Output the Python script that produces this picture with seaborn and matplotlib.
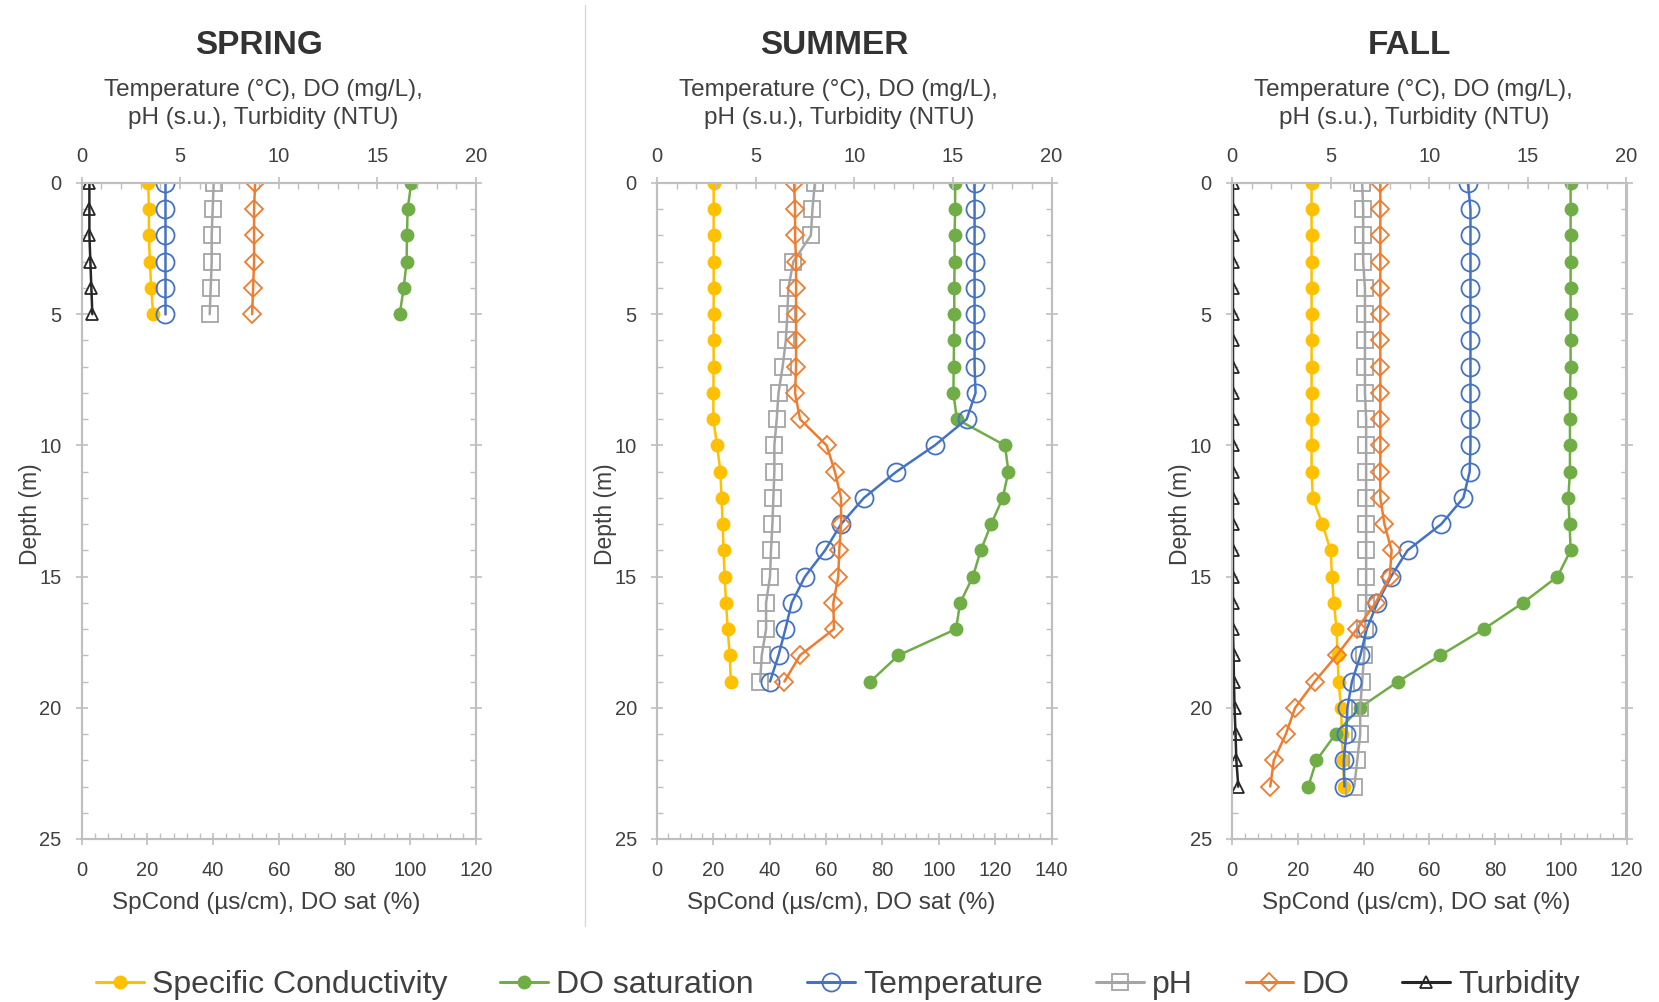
import numpy as np
import pandas as pd
import matplotlib
matplotlib.use("Agg")
import matplotlib.pyplot as plt
from matplotlib.lines import Line2D
from matplotlib.ticker import MultipleLocator
import seaborn as sns

# ---------------- data ----------------
seasons = ["SPRING", "SUMMER", "FALL"]

spring_depth = [0, 1, 2, 3, 4, 5]
spring_spcond = [20.3, 20.5, 20.5, 20.8, 21.2, 21.8]
spring_dosat = [100.3, 99.2, 99.0, 98.9, 98.0, 96.8]
spring_temp = [4.25, 4.25, 4.25, 4.25, 4.25, 4.25]
spring_ph = [6.7, 6.65, 6.6, 6.6, 6.55, 6.5]
spring_do = [8.8, 8.75, 8.75, 8.75, 8.7, 8.65]
spring_turb = [0.4, 0.4, 0.4, 0.45, 0.5, 0.55]

summer_depth = [0, 1, 2, 3, 4, 5, 6, 7, 8, 9, 10, 11, 12, 13, 14, 15, 16, 17, 18, 19]
summer_spcond = [20.1, 20.1, 20.1, 20.1, 20.1, 20.1, 20.1, 20.1, 20.0, 20.0,
                 21.3, 22.5, 22.9, 23.3, 23.6, 24.0, 24.5, 25.1, 25.8, 26.2]
summer_dosat = [105.8, 105.8, 105.6, 105.6, 105.5, 105.5, 105.4, 105.3, 105.2, 106.4,
                123.5, 124.7, 122.7, 118.6, 114.9, 112.1, 107.6, 106.1, 85.7, 75.7]
summer_temp = [16.1, 16.1, 16.1, 16.1, 16.1, 16.1, 16.1, 16.1, 16.15, 15.7,
               14.08, 12.14, 10.49, 9.33, 8.52, 7.5, 6.83, 6.51, 6.16, 5.73]
summer_ph = [8.0, 7.88, 7.8, 6.91, 6.66, 6.61, 6.53, 6.37, 6.16, 6.07,
             5.95, 5.95, 5.9, 5.85, 5.78, 5.73, 5.53, 5.53, 5.31, 5.23]
summer_do = [6.95, 7.0, 7.0, 7.05, 7.05, 7.05, 7.05, 7.05, 7.0, 7.25,
             8.6, 9.02, 9.33, 9.33, 9.24, 9.19, 8.94, 8.97, 7.25, 6.46]
summer_turb = []

fall_depth = [0, 1, 2, 3, 4, 5, 6, 7, 8, 9, 10, 11, 12, 13, 14, 15, 16, 17, 18, 19, 20, 21, 22, 23]
fall_spcond = [24.2, 24.2, 24.2, 24.2, 24.2, 24.2, 24.2, 24.2, 24.2, 24.2, 24.2, 24.2,
               24.6, 27.5, 30.0, 30.4, 31.0, 31.8, 32.1, 32.4, 33.2, 33.4, 33.8, 34.1]
fall_dosat = [103.0, 103.0, 103.0, 103.0, 103.0, 103.0, 103.0, 103.0, 102.8, 102.8, 102.8, 102.8,
              102.3, 102.7, 103.0, 99.0, 88.5, 76.6, 63.4, 50.5, 38.8, 31.5, 25.7, 23.2]
fall_temp = [11.96, 12.09, 12.09, 12.09, 12.09, 12.09, 12.09, 12.09, 12.09, 12.09, 12.09, 12.05,
             11.73, 10.61, 8.9, 8.06, 7.37, 6.83, 6.51, 6.08, 5.85, 5.79, 5.67, 5.7]
fall_ph = [6.6, 6.65, 6.65, 6.65, 6.74, 6.74, 6.74, 6.74, 6.74, 6.8, 6.8, 6.8,
           6.8, 6.8, 6.8, 6.8, 6.8, 6.75, 6.7, 6.6, 6.5, 6.5, 6.35, 6.2]
fall_do = [7.52, 7.52, 7.52, 7.52, 7.52, 7.52, 7.52, 7.52, 7.52, 7.52, 7.52, 7.52,
           7.52, 7.73, 8.09, 8.0, 7.28, 6.33, 5.31, 4.19, 3.2, 2.73, 2.12, 1.94]
fall_turb = [0.05, 0.05, 0.05, 0.05, 0.05, 0.05, 0.05, 0.05, 0.05, 0.05, 0.05, 0.05,
             0.05, 0.05, 0.05, 0.05, 0.05, 0.05, 0.08, 0.1, 0.13, 0.18, 0.22, 0.32]

bottom_max = [120, 140, 120]

series_names = ["Specific Conductivity", "DO saturation", "Temperature", "pH", "DO", "Turbidity"]
series_colors = ["#FFC000", "#70AD47", "#4472C4", "#A5A5A5", "#ED7D31", "#262626"]

# ---------------- styling ----------------
sns.set_theme(style="white")
plt.rcParams["font.family"] = ["Liberation Sans", "DejaVu Sans"]
TXT = "#404040"
AX = "#BFBFBF"

styles = {
    "Specific Conductivity": dict(marker="o", ms=9, mfc="#FFC000", mec="#FFC000", mew=1.0),
    "DO saturation": dict(marker="o", ms=9, mfc="#70AD47", mec="#70AD47", mew=1.0),
    "Temperature": dict(marker="o", ms=13, mfc="none", mec="#4472C4", mew=1.3),
    "pH": dict(marker="s", ms=12, mfc="none", mec="#A5A5A5", mew=1.3),
    "DO": dict(marker="D", ms=9, mfc="none", mec="#ED7D31", mew=1.3),
    "Turbidity": dict(marker="^", ms=8, mfc="none", mec="#262626", mew=1.3),
}
colors = dict(zip(series_names, series_colors))

fig = plt.figure(figsize=(16.59, 10.02), dpi=100)

panel_lefts = [81.5, 657, 1232]
W, H = 1659.0, 1002.0
ax_w = 394.5
ax_top, ax_bot = 183.0, 839.0
ax_h = ax_bot - ax_top

panels = [
    (spring_depth, spring_spcond, spring_dosat, spring_temp, spring_ph, spring_do, spring_turb),
    (summer_depth, summer_spcond, summer_dosat, summer_temp, summer_ph, summer_do, summer_turb),
    (fall_depth, fall_spcond, fall_dosat, fall_temp, fall_ph, fall_do, fall_turb),
]

for i, (title, pdata, bmax) in enumerate(zip(seasons, panels, bottom_max)):
    depth, spcond, dosat, temp, ph, do, turb = pdata
    ax = fig.add_axes([panel_lefts[i] / W, 1 - ax_bot / H, ax_w / W, ax_h / H])
    axt = ax.twiny()

    bottom_series = {"Specific Conductivity": spcond, "DO saturation": dosat}
    top_series = {"pH": ph, "Temperature": temp, "DO": do, "Turbidity": turb}

    for name, vals in top_series.items():
        if len(vals) == 0:
            continue
        df = pd.DataFrame({"depth": depth[:len(vals)], "value": vals})
        sns.lineplot(data=df, x="value", y="depth", ax=axt, orient="y", sort=True,
                     estimator=None, color=colors[name], lw=1.8, **styles[name])
    for name, vals in bottom_series.items():
        df = pd.DataFrame({"depth": depth, "value": vals})
        sns.lineplot(data=df, x="value", y="depth", ax=ax, orient="y", sort=True,
                     estimator=None, color=colors[name], lw=1.8, **styles[name])

    ax.set_xlim(0, bmax)
    axt.set_xlim(0, 20)
    ax.set_ylim(25, 0)
    axt.set_ylim(25, 0)

    ax.xaxis.set_major_locator(MultipleLocator(20))
    ax.xaxis.set_minor_locator(MultipleLocator(4))
    axt.xaxis.set_major_locator(MultipleLocator(5))
    axt.xaxis.set_minor_locator(MultipleLocator(1))
    ax.yaxis.set_major_locator(MultipleLocator(5))
    ax.yaxis.set_minor_locator(MultipleLocator(1))

    for a in (ax, axt):
        for s in a.spines.values():
            s.set_color(AX)
            s.set_linewidth(1.5)
            s.set_visible(True)
    ax.tick_params(axis="x", which="major", bottom=True, top=False, direction="inout",
                   length=9, width=1.2, color=AX, labelsize=14.5, labelcolor=TXT, pad=11)
    ax.tick_params(axis="x", which="minor", bottom=True, top=False, direction="in",
                   length=4, width=1, color=AX)
    axt.tick_params(axis="x", which="major", top=True, bottom=False, direction="inout",
                    length=9, width=1.2, color=AX, labelsize=14.5, labelcolor=TXT, pad=8)
    axt.tick_params(axis="x", which="minor", top=True, bottom=False, direction="in",
                    length=4, width=1, color=AX)
    ax.tick_params(axis="y", which="major", left=True, right=True, direction="inout",
                   length=9, width=1.2, color=AX, labelsize=14.5, labelcolor=TXT, pad=10)
    ax.tick_params(axis="y", which="minor", left=True, right=True, direction="in",
                   length=4, width=1, color=AX)
    axt.set_ylabel("")
    axt.tick_params(axis="y", left=False, right=False, labelleft=False, labelright=False)

    # axis labels
    lb = ax.set_xlabel("SpCond (µs/cm), DO sat (%)", fontsize=17.5, color=TXT)
    ax.xaxis.set_label_coords(0.5 - 12.7 / ax_w, (ax_bot - 903.5) / ax_h)
    lb.set_va("center")
    lt = axt.set_xlabel("Temperature (°C), DO (mg/L),\npH (s.u.), Turbidity (NTU)",
                        fontsize=17.5, color=TXT, linespacing=1.32)
    axt.xaxis.set_label_coords(0.5 - 15.5 / ax_w, (ax_bot - 104.0) / ax_h)
    lt.set_va("center")
    ly = ax.set_ylabel("Depth (m)", fontsize=16.5, color=TXT)
    ax.yaxis.set_label_coords((30.0 - 81.5) / ax_w, (ax_bot - 513.7) / ax_h)
    ly.set_va("center")

    cx = (panel_lefts[i] + ax_w / 2 - 20) / W
    fig.text(cx, 1 - 45.5 / H, title, ha="center", va="center", fontsize=24,
             fontweight="bold", color="#333333")

# separator line between first and second chart
fig.add_artist(Line2D([585 / W, 585 / W], [1 - 5 / H, 1 - 926 / H],
                      color="#D9D9D9", lw=1.0, transform=fig.transFigure))

handles = [Line2D([], [], color=colors[n], lw=2.2, **styles[n]) for n in series_names]
fig.legend(handles, series_names, loc="center", bbox_to_anchor=(838 / W, 1 - 985 / H),
           ncol=6, frameon=False, fontsize=23, handlelength=1.5, handletextpad=0.25,
           columnspacing=1.66, labelcolor=TXT)

fig.savefig("out.png", dpi=100, facecolor="white")
